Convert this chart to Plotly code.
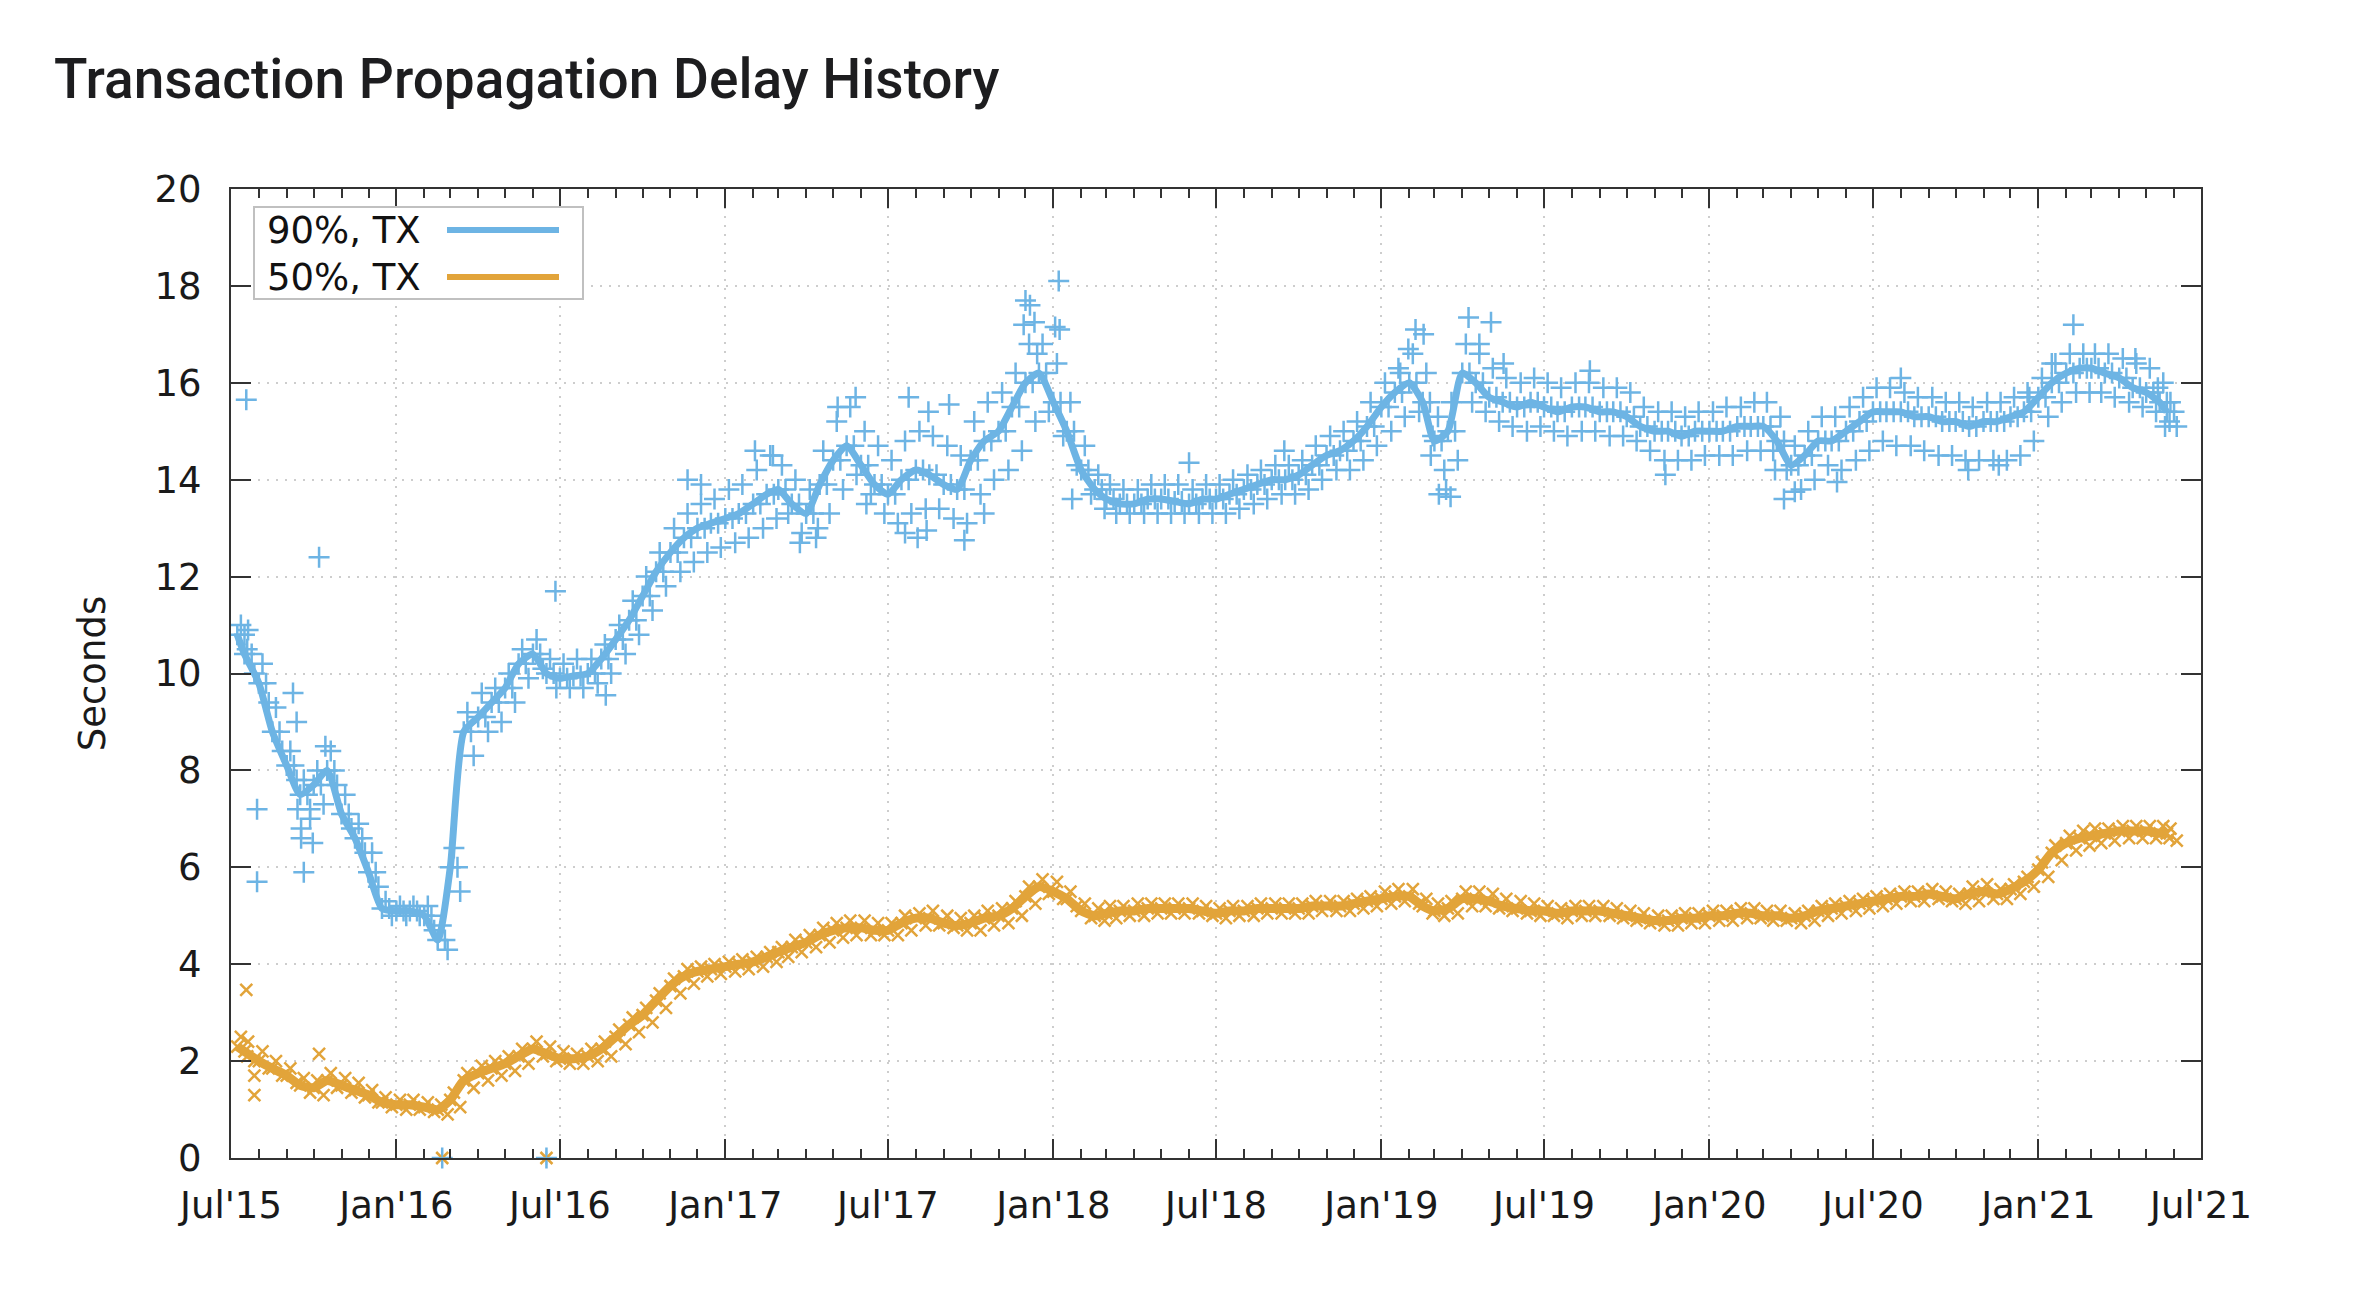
import plotly.graph_objects as go
import pandas as pd

# ---------------- data ----------------
# semi-monthly sample dates: 2015-07-08, then 1st/16th of each month, last 2021-05-24
_half = []
for _y in range(2015, 2022):
    for _m in range(1, 13):
        for _d in (1, 16):
            _s = f"{_y}-{_m:02d}-{_d:02d}"
            if "2015-07-16" <= _s <= "2021-05-16":
                _half.append(_s)
dates = ["2015-07-08"] + _half + ["2021-05-24"]

# 90% TX: centre of the cloud (smoothed line)
tx90 = [10.8, 10.4, 9.8, 8.8, 8.1, 7.5, 7.7, 8.0, 7.1, 6.6, 5.9, 5.15,
        5.1, 5.1, 5.0, 4.5, 6.0, 8.8, 9.1, 9.4, 9.7, 10.2, 10.4, 10.0,
        9.9, 9.95, 10.0, 10.3, 10.7, 11.1, 11.6, 12.1, 12.5, 12.8, 13.0, 13.1,
        13.2, 13.3, 13.5, 13.7, 13.8, 13.5, 13.3, 13.9, 14.4, 14.7, 14.3, 13.9,
        13.7, 14.0, 14.2, 14.1, 13.9, 13.8, 14.4, 14.8, 15.0, 15.5, 16.0, 16.2,
        15.6, 15.0, 14.2, 13.8, 13.6, 13.5, 13.5, 13.6, 13.6, 13.55, 13.5, 13.6,
        13.6, 13.7, 13.8, 13.9, 14.0, 14.0, 14.1, 14.3, 14.5, 14.6, 14.8, 15.1,
        15.5, 15.8, 16.0, 15.6, 14.8, 15.0, 16.2, 16.0, 15.7, 15.6, 15.5, 15.6,
        15.5, 15.4, 15.5, 15.5, 15.4, 15.4, 15.3, 15.1, 15.0, 15.0, 14.9, 15.0,
        15.0, 15.0, 15.1, 15.1, 15.1, 14.8, 14.3, 14.5, 14.8, 14.8, 15.0, 15.2,
        15.4, 15.4, 15.4, 15.3, 15.3, 15.2, 15.2, 15.1, 15.2, 15.2, 15.3, 15.4,
        15.7, 16.0, 16.2, 16.3, 16.3, 16.2, 16.1, 15.9, 15.8, 15.6, 15.4]
# upper / lower edge of the dense "+" cloud
tx90_hi = [11.0, 10.9, 10.2, 9.3, 8.4, 7.8, 8.0, 8.4, 7.5, 6.9, 6.3, 5.3,
           5.2, 5.2, 5.2, 4.8, 6.4, 9.2, 9.6, 9.7, 10.0, 10.5, 10.7, 10.3,
           10.2, 10.3, 10.3, 10.6, 11.0, 11.5, 12.0, 12.5, 13.0, 13.3, 13.5, 13.6,
           13.8, 13.9, 14.2, 14.5, 14.3, 14.0, 13.8, 14.6, 15.2, 15.5, 15.0, 14.7,
           14.4, 14.8, 15.0, 14.9, 14.7, 14.5, 15.2, 15.6, 15.8, 16.2, 16.8, 16.8,
           16.4, 15.6, 14.7, 14.1, 13.9, 13.8, 13.8, 13.9, 13.9, 13.9, 13.8, 13.9,
           13.9, 14.0, 14.1, 14.2, 14.3, 14.3, 14.4, 14.7, 14.9, 15.0, 15.2, 15.6,
           16.0, 16.3, 16.6, 16.2, 15.3, 15.6, 16.8, 16.6, 16.3, 16.1, 16.0, 16.1,
           16.0, 15.9, 16.0, 16.0, 15.9, 15.9, 15.8, 15.5, 15.4, 15.4, 15.3, 15.4,
           15.4, 15.5, 15.5, 15.6, 15.6, 15.3, 14.7, 15.0, 15.3, 15.3, 15.5, 15.7,
           15.9, 15.9, 15.8, 15.7, 15.7, 15.6, 15.6, 15.5, 15.6, 15.6, 15.7, 15.8,
           16.1, 16.4, 16.6, 16.6, 16.6, 16.6, 16.5, 16.4, 16.3, 16.0, 15.6]
tx90_lo = [10.5, 10.0, 9.4, 8.4, 7.8, 7.2, 7.3, 7.7, 6.8, 6.3, 5.6, 5.0,
           5.0, 5.0, 4.7, 4.3, 5.5, 8.3, 8.8, 9.0, 9.4, 9.9, 10.1, 9.7,
           9.7, 9.7, 9.8, 10.0, 10.4, 10.8, 11.3, 11.8, 12.1, 12.3, 12.5, 12.6,
           12.7, 12.8, 13.0, 13.2, 13.3, 12.9, 12.8, 13.3, 13.8, 14.1, 13.7, 13.3,
           13.1, 13.3, 13.4, 13.4, 13.2, 13.1, 13.7, 14.0, 14.2, 14.6, 15.2, 15.4,
           14.9, 14.3, 13.7, 13.4, 13.3, 13.3, 13.3, 13.3, 13.3, 13.3, 13.3, 13.3,
           13.3, 13.4, 13.5, 13.6, 13.7, 13.7, 13.8, 14.0, 14.2, 14.2, 14.4, 14.7,
           15.0, 15.3, 15.4, 14.9, 14.2, 14.4, 15.6, 15.4, 15.2, 15.1, 15.0, 15.1,
           15.0, 14.9, 15.0, 15.0, 14.9, 14.9, 14.8, 14.6, 14.4, 14.4, 14.4, 14.5,
           14.5, 14.5, 14.6, 14.6, 14.6, 14.2, 13.8, 14.0, 14.3, 14.2, 14.4, 14.6,
           14.8, 14.7, 14.7, 14.6, 14.5, 14.5, 14.4, 14.4, 14.4, 14.4, 14.5, 14.8,
           15.3, 15.6, 15.8, 15.8, 15.8, 15.7, 15.6, 15.5, 15.4, 15.2, 15.1]
# isolated "+" points outside the cloud
tx90_out_dates = ["2015-07-18", "2015-07-30", "2015-07-30", "2015-09-08", "2015-09-12",
                  "2015-09-13", "2015-09-17", "2015-09-17", "2015-09-20", "2015-09-27",
                  "2015-09-30", "2015-10-07", "2015-10-14", "2016-02-21", "2016-06-16",
                  "2016-06-26", "2016-08-21", "2016-11-20", "2016-12-05",
                  "2017-02-03", "2017-02-23", "2017-05-06", "2017-05-26", "2017-07-24",
                  "2017-08-15", "2017-09-07", "2017-03-25", "2017-04-14", "2017-06-07",
                  "2017-07-20", "2017-08-03", "2017-08-13", "2017-09-24", "2017-10-16",
                  "2017-11-29", "2017-12-01", "2017-12-06", "2017-12-11", "2017-12-14",
                  "2018-01-03", "2018-01-07", "2018-01-08", "2018-01-22", "2018-06-01",
                  "2018-09-15", "2019-01-22", "2019-01-31", "2019-02-08", "2019-02-17",
                  "2019-02-25", "2019-03-06", "2019-03-14", "2019-03-19", "2019-04-08",
                  "2019-04-20", "2019-05-03", "2019-05-17", "2019-08-21", "2019-11-13",
                  "2020-03-14", "2020-03-24", "2020-04-05", "2020-05-22", "2020-08-01",
                  "2020-10-15", "2020-11-18", "2020-12-22", "2021-01-16", "2021-02-09",
                  "2021-04-19", "2021-05-14", "2021-05-22"]
tx90_out_vals = [15.65, 7.2, 5.7, 9.6, 9.0,
                 7.2, 6.8, 6.6, 5.9, 7.0,
                 6.5, 12.4, 8.5, 0.0, 0.0,
                 11.7, 9.55, 14.0, 13.9,
                 14.6, 14.5, 15.5, 15.7, 15.7,
                 15.4, 15.55, 12.7, 13.0, 13.5,
                 12.9, 12.8, 12.95, 12.75, 13.3,
                 17.2, 17.7, 17.6, 17.25, 16.6,
                 17.15, 18.1, 17.1, 13.6, 14.35,
                 14.6, 16.2, 16.7, 17.1, 17.0,
                 14.5, 13.7, 13.8, 13.65, 17.35,
                 16.8, 17.25, 16.4, 16.25, 14.1,
                 14.2, 13.6, 13.75, 13.95, 16.1,
                 14.2, 14.3, 15.7, 16.4, 17.2,
                 16.5, 15.9, 15.1]

# 50% TX: centre, upper and lower edge of the dense "x" band
tx50 = [2.3, 2.2, 2.0, 1.85, 1.7, 1.5, 1.45, 1.6, 1.5, 1.4, 1.3, 1.15,
        1.1, 1.1, 1.05, 1.0, 1.2, 1.6, 1.75, 1.85, 1.95, 2.1, 2.25, 2.15,
        2.05, 2.05, 2.1, 2.25, 2.5, 2.75, 2.95, 3.25, 3.55, 3.75, 3.85, 3.9,
        3.95, 4.0, 4.05, 4.15, 4.25, 4.35, 4.45, 4.6, 4.7, 4.75, 4.75, 4.7,
        4.7, 4.85, 4.95, 4.95, 4.85, 4.8, 4.85, 4.95, 5.0, 5.15, 5.4, 5.6,
        5.5, 5.35, 5.1, 5.0, 5.05, 5.1, 5.1, 5.15, 5.15, 5.15, 5.15, 5.1,
        5.05, 5.1, 5.1, 5.15, 5.15, 5.15, 5.15, 5.2, 5.2, 5.2, 5.25, 5.3,
        5.35, 5.4, 5.4, 5.2, 5.1, 5.15, 5.35, 5.35, 5.3, 5.2, 5.15, 5.1,
        5.1, 5.05, 5.1, 5.1, 5.1, 5.05, 5.0, 4.95, 4.9, 4.9, 4.95, 4.95,
        5.0, 5.0, 5.05, 5.05, 5.0, 5.0, 4.95, 5.0, 5.1, 5.15, 5.2, 5.25,
        5.3, 5.35, 5.4, 5.4, 5.45, 5.4, 5.35, 5.45, 5.5, 5.45, 5.55, 5.7,
        5.95, 6.3, 6.5, 6.6, 6.65, 6.7, 6.75, 6.75, 6.75, 6.7, 6.7]
tx50_hi = [2.5, 2.4, 2.2, 2.0, 1.85, 1.65, 1.6, 1.75, 1.65, 1.55, 1.4, 1.25,
           1.2, 1.2, 1.15, 1.1, 1.35, 1.75, 1.9, 2.0, 2.1, 2.25, 2.4, 2.3,
           2.2, 2.15, 2.25, 2.4, 2.65, 2.9, 3.1, 3.4, 3.7, 3.9, 3.95, 4.0,
           4.05, 4.1, 4.15, 4.25, 4.35, 4.5, 4.6, 4.75, 4.85, 4.9, 4.9, 4.85,
           4.85, 5.0, 5.05, 5.1, 5.0, 4.95, 5.0, 5.1, 5.15, 5.3, 5.6, 5.75,
           5.7, 5.5, 5.25, 5.15, 5.2, 5.2, 5.25, 5.25, 5.25, 5.25, 5.25, 5.2,
           5.15, 5.2, 5.2, 5.25, 5.25, 5.25, 5.25, 5.3, 5.3, 5.3, 5.35, 5.4,
           5.5, 5.55, 5.55, 5.35, 5.25, 5.3, 5.5, 5.5, 5.45, 5.35, 5.3, 5.25,
           5.2, 5.15, 5.2, 5.2, 5.2, 5.15, 5.1, 5.05, 5.0, 5.0, 5.05, 5.05,
           5.1, 5.1, 5.15, 5.15, 5.1, 5.1, 5.05, 5.1, 5.2, 5.25, 5.3, 5.35,
           5.4, 5.45, 5.5, 5.5, 5.55, 5.5, 5.45, 5.6, 5.65, 5.55, 5.65, 5.8,
           6.1, 6.45, 6.65, 6.75, 6.8, 6.8, 6.85, 6.85, 6.85, 6.85, 6.8]
tx50_lo = [2.1, 2.0, 1.85, 1.7, 1.55, 1.35, 1.3, 1.45, 1.35, 1.25, 1.15, 1.05,
           1.0, 1.0, 0.95, 0.9, 1.05, 1.45, 1.6, 1.7, 1.8, 1.95, 2.1, 2.0,
           1.95, 1.95, 2.0, 2.1, 2.35, 2.6, 2.8, 3.1, 3.4, 3.6, 3.75, 3.8,
           3.85, 3.9, 3.95, 4.05, 4.15, 4.25, 4.35, 4.45, 4.55, 4.6, 4.6, 4.6,
           4.6, 4.7, 4.8, 4.8, 4.75, 4.7, 4.7, 4.8, 4.85, 5.0, 5.25, 5.45,
           5.35, 5.2, 4.95, 4.9, 4.95, 5.0, 5.0, 5.05, 5.05, 5.05, 5.05, 5.0,
           4.95, 5.0, 5.0, 5.05, 5.05, 5.05, 5.05, 5.1, 5.1, 5.1, 5.15, 5.2,
           5.25, 5.3, 5.25, 5.05, 5.0, 5.05, 5.2, 5.2, 5.15, 5.1, 5.05, 5.0,
           5.0, 4.95, 5.0, 5.0, 5.0, 4.95, 4.9, 4.85, 4.8, 4.8, 4.85, 4.85,
           4.9, 4.9, 4.95, 4.95, 4.9, 4.9, 4.85, 4.9, 5.0, 5.05, 5.1, 5.15,
           5.2, 5.25, 5.3, 5.3, 5.35, 5.3, 5.25, 5.3, 5.35, 5.35, 5.45, 5.6,
           5.8, 6.15, 6.35, 6.45, 6.5, 6.55, 6.6, 6.6, 6.6, 6.6, 6.55]
tx50_out_dates = ["2015-07-18", "2015-07-27", "2015-07-27", "2015-10-07",
                  "2016-02-21", "2016-06-16"]
tx50_out_vals = [3.47, 1.3, 1.7, 2.15, 0.0, 0.0]

series_names = ["90%, TX", "50%, TX"]
x_tick_start = "2015-07-01"
x_range = ["2015-07-01", "2021-07-01"]
y_range = [0, 20]

assert len(dates) == len(tx90) == len(tx90_hi) == len(tx90_lo) == len(tx50)
assert len(tx50) == len(tx50_hi) == len(tx50_lo)

# ---------------- styling ----------------
W, H = 2374, 1296
L, R, T, B = 231, 2201, 189, 1158
BLUE = "#6db4e4"
ORANGE = "#e2a43a"
AX = "#333333"
GRID = "#cdcdcd"
FONT = "DejaVu Sans"

d = pd.to_datetime(dates)
d_hi = d + pd.Timedelta(days=4)
d_lo = d + pd.Timedelta(days=11)
d_mid = d + pd.Timedelta(days=8)

fig = go.Figure()

plus = dict(symbol="cross-thin", size=15, color=BLUE, line=dict(color=BLUE, width=2.5))
cross = dict(symbol="x-thin", size=12, color=ORANGE, line=dict(color=ORANGE, width=2.5))

# 90% cloud
fig.add_trace(go.Scatter(x=list(d_hi) + list(d_lo) + list(d) + list(d_mid),
                         y=tx90_hi + tx90_lo + tx90 + tx90,
                         mode="markers", marker=plus, showlegend=False, hoverinfo="skip"))
fig.add_trace(go.Scatter(x=pd.to_datetime(tx90_out_dates), y=tx90_out_vals, cliponaxis=False,
                         mode="markers", marker=plus, showlegend=False, hoverinfo="skip"))
fig.add_trace(go.Scatter(x=d, y=tx90, mode="lines", name=series_names[0],
                         line=dict(color=BLUE, width=7, shape="spline", smoothing=0.6),
                         showlegend=False))
# 50% band
fig.add_trace(go.Scatter(x=list(d_hi) + list(d_lo), y=tx50_hi + tx50_lo,
                         mode="markers", marker=cross, showlegend=False, hoverinfo="skip"))
fig.add_trace(go.Scatter(x=d, y=tx50, mode="lines+markers", name=series_names[1],
                         line=dict(color=ORANGE, width=9, shape="spline", smoothing=0.6),
                         marker=cross, showlegend=False))
fig.add_trace(go.Scatter(x=pd.to_datetime(tx50_out_dates), y=tx50_out_vals, cliponaxis=False,
                         mode="markers", marker=cross, showlegend=False, hoverinfo="skip"))
# blue "+" also drawn over the two zero points (as in the reference)
fig.add_trace(go.Scatter(x=pd.to_datetime(tx50_out_dates[-2:]), y=tx50_out_vals[-2:],
                         mode="markers", cliponaxis=False,
                         marker=dict(symbol="cross-thin", size=10, color=BLUE,
                                     line=dict(color=BLUE, width=1.5)),
                         showlegend=False, hoverinfo="skip"))

axis_common = dict(showline=True, linecolor=AX, linewidth=2, mirror="allticks",
                   ticks="inside", tickcolor=AX, tickwidth=2,
                   showgrid=True, gridcolor=GRID, gridwidth=2, griddash="2px,7px",
                   zeroline=False, tickfont=dict(family=FONT, size=37, color="#1a1a1a"))

fig.update_xaxes(**axis_common, type="date", range=x_range, tick0=x_tick_start, dtick="M6",
                 tickformat="%b'%y", ticklen=19, ticklabelstandoff=14,
                 minor=dict(dtick="M1", ticks="inside", ticklen=9, tickwidth=2,
                            tickcolor=AX, showgrid=False))
fig.update_yaxes(**axis_common, range=y_range, dtick=2, ticklen=20, ticklabelstandoff=20,
                 title=dict(text="Seconds", font=dict(family=FONT, size=37, color="#1a1a1a"),
                            standoff=38))

# legend box (text left, line sample right, as in the reference)
def px(xp):
    return (xp - L) / (R - L)

def py(yp):
    return (B - yp) / (B - T)

shapes = [dict(type="rect", xref="paper", yref="paper", x0=px(254), x1=px(583),
               y0=py(299), y1=py(207), line=dict(color="#c0c0c0", width=2),
               fillcolor="white", layer="above")]
annotations = []
for name, col, yy in [(series_names[0], BLUE, 230), (series_names[1], ORANGE, 277)]:
    shapes.append(dict(type="line", xref="paper", yref="paper", x0=px(447), x1=px(559),
                       y0=py(yy), y1=py(yy), line=dict(color=col, width=6), layer="above"))
    annotations.append(dict(xref="paper", yref="paper", x=px(265), y=py(yy), text=name,
                            showarrow=False, xanchor="left", yanchor="middle",
                            font=dict(family=FONT, size=37, color="#111111")))

fig.update_layout(
    width=W, height=H, autosize=False,
    margin=dict(l=L, r=W - R, t=T, b=H - B, pad=0),
    paper_bgcolor="white", plot_bgcolor="white",
    title=dict(text="Transaction Propagation Delay History",
               font=dict(family="Roboto", size=55, weight=500, color="#1d1d1f"),
               x=54 / W, xanchor="left", xref="container",
               y=1 - 79 / H, yanchor="middle", yref="container"),
    shapes=shapes, annotations=annotations, showlegend=False,
)

fig.write_html("out.html")
